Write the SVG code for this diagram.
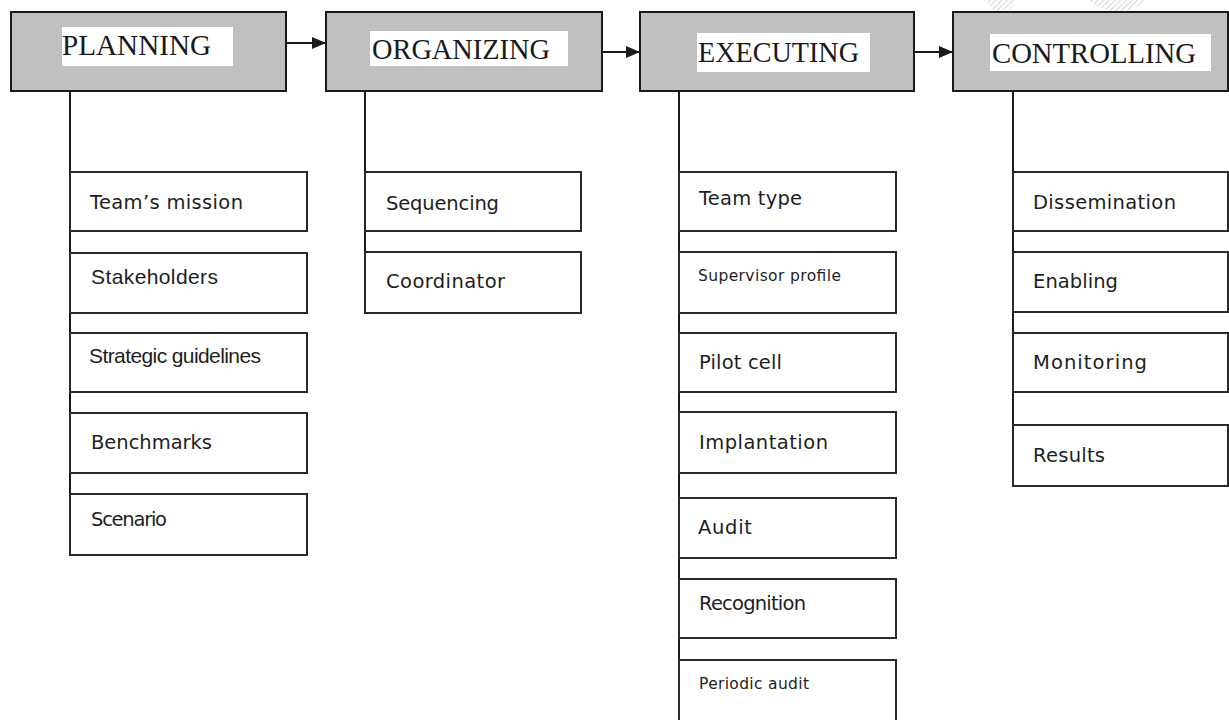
<svg xmlns="http://www.w3.org/2000/svg" width="1229" height="720" viewBox="0 0 1229 720">
  <style>
    .phase { fill: #c0c0c0; stroke: #1a1a1a; stroke-width: 2; }
    .tag { fill: #ffffff; stroke: none; }
    .title { font-family: "Liberation Serif", "Times New Roman", serif; font-size: 29px; fill: #1a1a1a; }
    .item { fill: #ffffff; stroke: #2a2a2a; stroke-width: 2; }
    .lbl { font-family: "DejaVu Sans", Verdana, sans-serif; font-size: 19.5px; fill: #1e1e1e; }
    .lbl-small { font-family: "DejaVu Sans", Verdana, sans-serif; font-size: 15.5px; fill: #1e1e1e; }
    .lbl-arial { font-family: "Liberation Sans", Arial, sans-serif; font-size: 21px; fill: #1e1e1e; }
    .wire { stroke: #1a1a1a; stroke-width: 2; fill: none; }
    .flow { stroke: #1a1a1a; stroke-width: 2; fill: none; marker-end: url(#head); }
  </style>
  <defs>
    <marker id="head" viewBox="0 0 14 12" refX="14" refY="6" markerWidth="14" markerHeight="12" markerUnits="userSpaceOnUse" orient="auto">
      <path d="M0,0 L14,6 L0,12 Z" fill="#1a1a1a"/>
    </marker>
    <pattern id="hatch" width="4" height="4" patternUnits="userSpaceOnUse" patternTransform="rotate(45)">
      <line x1="0" y1="0" x2="0" y2="4" stroke="#d4d4d4" stroke-width="2"/>
    </pattern>
  </defs>

  <rect width="1229" height="720" fill="#ffffff"/>

  <!-- faint background marks at the top edge -->
  <g id="backdrop">
    <path d="M984,0 L1016,0 L1011,9 L995,11 Z" fill="url(#hatch)"/>
    <path d="M1089,0 L1144,0 Q1138,10 1118,12 Q1098,10 1089,0 Z" fill="url(#hatch)"/>
  </g>

  <!-- connectors: flow arrows between phases and the spines that carry each phase's steps -->
  <g id="connectors">
    <line class="flow" x1="286" y1="43" x2="326" y2="43"/>
    <line class="flow" x1="602" y1="52" x2="640" y2="52"/>
    <line class="flow" x1="914" y1="52" x2="953" y2="52"/>
    <line class="wire" x1="70" y1="91" x2="70" y2="555"/>
    <line class="wire" x1="365" y1="91" x2="365" y2="313"/>
    <line class="wire" x1="679" y1="91" x2="679" y2="720"/>
    <line class="wire" x1="1013" y1="91" x2="1013" y2="486"/>
  </g>

  <!-- phase headers -->
  <g id="planning">
    <rect class="phase" x="11" y="12" width="275" height="79"/>
    <rect class="tag" x="62" y="27" width="171" height="39"/>
    <text class="title" x="62" y="55" textLength="149" lengthAdjust="spacingAndGlyphs">PLANNING</text>
  </g>
  <g id="organizing">
    <rect class="phase" x="326" y="12" width="276" height="79"/>
    <rect class="tag" x="370" y="31" width="198" height="35"/>
    <text class="title" x="372" y="59" textLength="178" lengthAdjust="spacingAndGlyphs">ORGANIZING</text>
  </g>
  <g id="executing">
    <rect class="phase" x="640" y="12" width="274" height="79"/>
    <rect class="tag" x="697" y="33" width="173" height="39"/>
    <text class="title" x="698" y="62" textLength="161" lengthAdjust="spacingAndGlyphs">EXECUTING</text>
  </g>
  <g id="controlling">
    <rect class="phase" x="953" y="12" width="275" height="79"/>
    <rect class="tag" x="990" y="34" width="221" height="37"/>
    <text class="title" x="992" y="63" textLength="204" lengthAdjust="spacingAndGlyphs">CONTROLLING</text>
  </g>

  <!-- planning steps -->
  <g id="teams-mission">
    <rect class="item" x="70" y="172" width="237" height="59"/>
    <text class="lbl" x="90" y="209" textLength="153" lengthAdjust="spacing">Team’s mission</text>
  </g>
  <g id="stakeholders">
    <rect class="item" x="70" y="253" width="237" height="60"/>
    <text class="lbl-arial" x="91" y="284" textLength="127" lengthAdjust="spacing">Stakeholders</text>
  </g>
  <g id="strategic-guidelines">
    <rect class="item" x="70" y="333" width="237" height="59"/>
    <text class="lbl-arial" x="89" y="363" font-size="20" textLength="172" lengthAdjust="spacing">Strategic guidelines</text>
  </g>
  <g id="benchmarks">
    <rect class="item" x="70" y="413" width="237" height="60"/>
    <text class="lbl" x="91" y="449" textLength="121" lengthAdjust="spacing">Benchmarks</text>
  </g>
  <g id="scenario">
    <rect class="item" x="70" y="494" width="237" height="61"/>
    <text class="lbl" x="91" y="526" font-size="18" textLength="76" lengthAdjust="spacing">Scenario</text>
  </g>

  <!-- organizing steps -->
  <g id="sequencing">
    <rect class="item" x="365" y="172" width="216" height="59"/>
    <text class="lbl" x="386" y="210" textLength="113" lengthAdjust="spacing">Sequencing</text>
  </g>
  <g id="coordinator">
    <rect class="item" x="365" y="252" width="216" height="61"/>
    <text class="lbl" x="386" y="288" textLength="119" lengthAdjust="spacing">Coordinator</text>
  </g>

  <!-- executing steps -->
  <g id="team-type">
    <rect class="item" x="679" y="172" width="217" height="59"/>
    <text class="lbl" x="699" y="205" font-size="20" textLength="103" lengthAdjust="spacing">Team type</text>
  </g>
  <g id="supervisor-profile">
    <rect class="item" x="679" y="252" width="217" height="61"/>
    <text class="lbl-small" x="698" y="281" textLength="143" lengthAdjust="spacing">Supervisor profile</text>
  </g>
  <g id="pilot-cell">
    <rect class="item" x="679" y="333" width="217" height="59"/>
    <text class="lbl" x="699" y="369" textLength="83" lengthAdjust="spacing">Pilot cell</text>
  </g>
  <g id="implantation">
    <rect class="item" x="679" y="412" width="217" height="61"/>
    <text class="lbl" x="699" y="449" textLength="129" lengthAdjust="spacing">Implantation</text>
  </g>
  <g id="audit">
    <rect class="item" x="679" y="498" width="217" height="60"/>
    <text class="lbl" x="698" y="534" textLength="54" lengthAdjust="spacing">Audit</text>
  </g>
  <g id="recognition">
    <rect class="item" x="679" y="579" width="217" height="59"/>
    <text class="lbl" x="699" y="610" textLength="107" lengthAdjust="spacing">Recognition</text>
  </g>
  <g id="periodic-audit">
    <rect class="item" x="679" y="660" width="217" height="80"/>
    <text class="lbl-small" x="699" y="689" textLength="110" lengthAdjust="spacing">Periodic audit</text>
  </g>

  <!-- controlling steps -->
  <g id="dissemination">
    <rect class="item" x="1013" y="172" width="215" height="59"/>
    <text class="lbl" x="1033" y="209" textLength="143" lengthAdjust="spacing">Dissemination</text>
  </g>
  <g id="enabling">
    <rect class="item" x="1013" y="252" width="215" height="60"/>
    <text class="lbl" x="1033" y="288" textLength="85" lengthAdjust="spacing">Enabling</text>
  </g>
  <g id="monitoring">
    <rect class="item" x="1013" y="333" width="215" height="59"/>
    <text class="lbl" x="1033" y="369" textLength="114" lengthAdjust="spacing">Monitoring</text>
  </g>
  <g id="results">
    <rect class="item" x="1013" y="425" width="215" height="61"/>
    <text class="lbl" x="1033" y="462" textLength="72" lengthAdjust="spacing">Results</text>
  </g>
</svg>
